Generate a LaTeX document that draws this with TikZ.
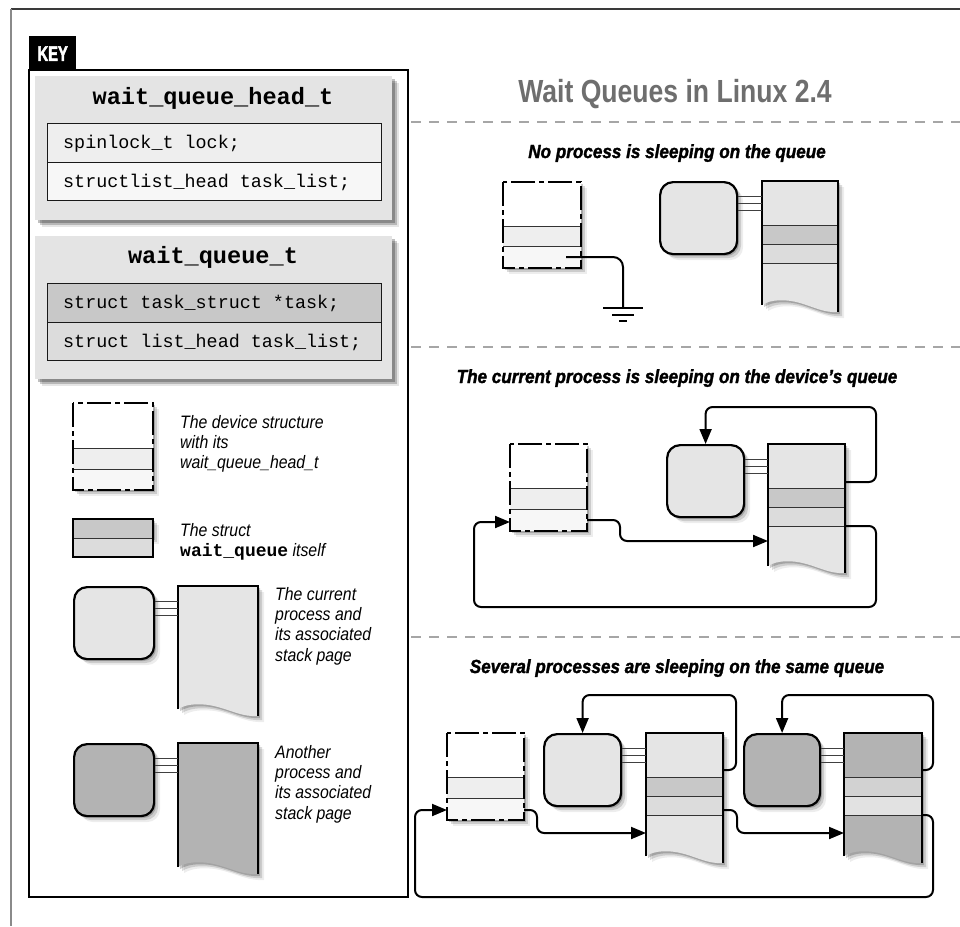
\documentclass[tikz,border=0pt]{standalone}
\usepackage{fontspec}
\setmainfont{Liberation Sans}
\setmonofont{Liberation Mono}
\newfontfamily\titlefont{Liberation Sans}[FakeStretch=0.83, UprightFont=*, BoldFont=* Bold, ItalicFont=* Italic, BoldItalicFont=* Bold Italic]
\newfontfamily\subfont{Liberation Sans}[FakeStretch=0.9, UprightFont=*, BoldFont=* Bold, ItalicFont=* Italic, BoldItalicFont=* Bold Italic, BoldItalicFeatures={FakeBold=1.6}]
\newfontfamily\legfont{Liberation Sans}[FakeStretch=0.88, UprightFont=*, BoldFont=* Bold, ItalicFont=* Italic, BoldItalicFont=* Bold Italic]
\newfontfamily\keyfont{Liberation Sans}[FakeStretch=0.7, UprightFont=*, BoldFont=* Bold, ItalicFont=* Italic, BoldItalicFont=* Bold Italic, BoldFeatures={FakeBold=2.2}]
\usetikzlibrary{arrows.meta,shadows}
\definecolor{framedark}{HTML}{3A3A3A}
\definecolor{framegray}{HTML}{8A8A8A}
\definecolor{panelgray}{HTML}{E4E4E4}
\definecolor{lightproc}{HTML}{E5E5E5}
\definecolor{darkproc}{HTML}{B3B3B3}
\definecolor{bandA}{HTML}{C8C8C8}
\definecolor{bandB}{HTML}{DCDCDC}
\definecolor{bandC}{HTML}{D2D2D2}
\definecolor{bandD}{HTML}{E2E2E2}
\definecolor{devrowA}{HTML}{EEEEEE}
\definecolor{devrowB}{HTML}{F7F7F7}
\definecolor{titlegray}{HTML}{6E6E6E}
\definecolor{sepgray}{HTML}{A6A6A6}
\tikzset{
  softshadow/.style={drop shadow={shadow xshift=2pt,shadow yshift=-2pt,opacity=0.2,fill=black},
                     drop shadow={shadow xshift=4pt,shadow yshift=-4pt,opacity=0.14,fill=black},
                     drop shadow={shadow xshift=6pt,shadow yshift=-6pt,opacity=0.07,fill=black}},
  panelshadow/.style={drop shadow={shadow xshift=3pt,shadow yshift=-3pt,opacity=0.25,fill=black},
                      drop shadow={shadow xshift=5pt,shadow yshift=-5pt,opacity=0.2,fill=black},
                      drop shadow={shadow xshift=7pt,shadow yshift=-7pt,opacity=0.1,fill=black}},
  panel/.style={fill=panelgray, draw=none, inner sep=0, anchor=north west, minimum width=357pt, panelshadow},
  rowbox/.style={draw=black!90, line width=1pt},
  monorow/.style={font=\ttfamily\fontsize{18.4}{20}\selectfont, inner sep=0, anchor=base west},
  monotitle/.style={font=\ttfamily\bfseries\fontsize{23.6}{26}\selectfont, inner sep=0, anchor=base},
  legtext/.style={font=\legfont\itshape\fontsize{18}{20.3}\selectfont, align=left, inner sep=0, anchor=north west},
  subtitle/.style={font=\subfont\bfseries\itshape\fontsize{19}{22}\selectfont, inner sep=0, anchor=base},
  divline/.style={draw=black!80, line width=0.9pt},
  devborder/.style={draw=black, line width=1.7pt, dash pattern=on 24pt off 4pt on 5pt off 4pt},
  pageborder/.style={draw=black, line width=2.4pt, line join=miter},
  proc/.style={draw=black, line width=2.2pt, rounded corners=13pt, inner sep=0, anchor=north west, minimum width=77pt, minimum height=72pt, softshadow},
  link/.style={draw=black!75, line width=0.9pt},
  flow/.style={draw=black, line width=2pt, rounded corners=7pt, -{Triangle[length=15pt,width=12pt]}},
  wire/.style={draw=black, line width=2pt, rounded corners=10pt},
  sepline/.style={draw=sepgray, line width=1.6pt, dash pattern=on 10pt off 8pt}
}
% device structure: name, x0, y0, x1, y1, divider1, divider2
\newcommand{\mkdev}[7]{%
  \fill[white, softshadow] (#2,#3) rectangle (#4,#5);
  \fill[devrowA] (#2,#6) rectangle (#4,#7);
  \fill[devrowB] (#2,#7) rectangle (#4,#5);
  \draw[divline] (#2,#6) -- (#4,#6) (#2,#7) -- (#4,#7);
  \draw[devborder] (#2,#3) rectangle (#4,#5);
  \node[inner sep=0, anchor=north west, minimum width=#4pt-#2pt, minimum height=#5pt-#3pt] (#1) at (#2,#3) {};
}
% stack page body: name, x, y, w, hL, fill
\newcommand{\mkpagebody}[6]{%
  \begin{scope}[shift={(#2,#3)}]
    \fill[#6, softshadow] (0,0) -- (#4,0) -- (#4,#5+7) .. controls (0.82*#4,#5+8) and (0.68*#4,#5+2) .. (0.5*#4,#5-2) .. controls (0.32*#4,#5-6) and (0.12*#4,#5-6) .. (0,#5) -- cycle;
    \node[inner sep=0, anchor=north west, minimum width=#4pt, minimum height=#5pt] (#1) at (0,0) {};
  \end{scope}
}
\newcommand{\mkpageborder}[4]{% x, y, w, hL
  \begin{scope}[shift={(#1,#2)}]
    \draw[pageborder] (0,#4) -- (0,0) -- (#3,0) -- (#3,#4+7);
  \end{scope}
}
\newcommand{\mkbands}[5]{% x, y, w, colorA, colorB
  \begin{scope}[shift={(#1,#2)}]
    \fill[#4] (0,44) rectangle (#3,63);
    \fill[#5] (0,63) rectangle (#3,82);
    \draw[divline] (0,44) -- (#3,44) (0,63) -- (#3,63) (0,82) -- (#3,82);
  \end{scope}
}
\newcommand{\mklinks}[2]{%
  \foreach \dd in {15,22,29} {\draw[link] ([shift={(0,\dd)}]#1.north east) -- ([shift={(0,\dd)}]#2.north west);}
}
\begin{document}
\begin{tikzpicture}[x=1pt,y=-1pt]
\useasboundingbox (0,0) rectangle (960,926);
% outer frame
\draw[framedark, line width=1.5pt] (11,9) -- (960,9);
\draw[framegray, line width=1.5pt] (11,9) -- (11,926);

% ---------------- KEY ----------------
\node[fill=black, inner sep=0, minimum width=47pt, minimum height=35pt, anchor=north west, text=white,
      font=\keyfont\bfseries\fontsize{21}{21}\selectfont] (keylabel) at (29,36) {KEY};
\draw[line width=2pt] (29,70) rectangle (408,897);

% wait_queue_head_t panel
\node[panel, minimum height=144pt] (headpanel) at (35,76) {};
\node[monotitle] (headtitle) at (213,104) {wait\_queue\_head\_t};
\draw[rowbox, fill=devrowA] (47,123) rectangle (381,162);
\draw[rowbox, fill=devrowB] (47,162) rectangle (381,200);
\node[monorow] (hlock) at (63,148) {spinlock\_t lock;};
\node[monorow] (hlist) at (63,187) {structlist\_head task\_list;};

% wait_queue_t panel
\node[panel, minimum height=143pt] (wqpanel) at (35,236) {};
\node[monotitle] (wqtitle) at (213,263) {wait\_queue\_t};
\draw[rowbox, fill=bandA] (47,283) rectangle (381,322);
\draw[rowbox, fill=bandB] (47,322) rectangle (381,360);
\node[monorow] (wqtask) at (63,308) {struct task\_struct *task;};
\node[monorow] (wqlist) at (63,347) {struct list\_head task\_list;};

% device structure legend
\mkdev{keydev}{73}{403}{153}{490}{448}{469}
\node[legtext] (keydevtext) at (180,415) {The device structure\\with its\\wait\_queue\_head\_t};

% struct wait_queue legend
\fill[bandA, softshadow] (73,519) rectangle (153,538);
\fill[bandB] (73,538) rectangle (153,557);
\draw[divline] (73,538) -- (153,538);
\draw[line width=2pt] (73,519) rectangle (153,557);
\node[legtext] (keywqtext) at (180,523) {The struct\\{\ttfamily\bfseries\upshape wait\_queue} itself};

% current process legend
\node[proc, fill=lightproc, minimum width=80pt] (keycur) at (73,586) {};
\mkpagebody{keycurpage}{178}{586}{80}{123}{lightproc}
\mkpageborder{178}{586}{80}{123}
\mklinks{keycur}{keycurpage}
\node[legtext] (keycurtext) at (275,587) {The current\\process and\\its associated\\stack page};

% another process legend
\node[proc, fill=darkproc, minimum width=80pt] (keyoth) at (73,743) {};
\mkpagebody{keyothpage}{178}{743}{80}{124}{darkproc}
\mkpageborder{178}{743}{80}{124}
\mklinks{keyoth}{keyothpage}
\node[legtext] (keyothtext) at (275,745) {Another\\process and\\its associated\\stack page};

% ---------------- RIGHT SIDE ----------------
\node[font=\titlefont\bfseries\fontsize{32}{36}\selectfont, text=titlegray, inner sep=0, anchor=base] (title) at (675,102) {Wait Queues in Linux 2.4};
\draw[sepline] (411,122) -- (960,122);
\draw[sepline] (411,347) -- (960,347);
\draw[sepline] (411,637) -- (960,637);

% Section 1
\node[subtitle] (sub1) at (677,158) {No process is sleeping on the queue};
\mkdev{dev1}{503}{182}{581}{268}{226}{246}
\node[proc, fill=lightproc] (box1) at (659,181) {};
\mkpagebody{page1}{762}{181}{76}{124}{lightproc}
\mkbands{762}{181}{76}{bandA}{bandB}
\mkpageborder{762}{181}{76}{124}
\mklinks{box1}{page1}
\coordinate (dev1out) at (566,257);
\coordinate (gnd) at (623,308);
\draw[wire] (dev1out) -| (gnd);
\draw[line width=2pt] (gnd) ++(-20,0) -- ++(40,0) ++(-31,7) -- ++(22,0) ++(-15,6) -- ++(8,0);

% Section 2
\node[subtitle] (sub2) at (677,383) {The current process is sleeping on the device’s queue};
\mkdev{dev2}{510}{444}{587}{531}{488}{509}
\node[proc, fill=lightproc] (box2) at (666,444) {};
\mkpagebody{page2}{768}{444}{77}{122}{lightproc}
\mkbands{768}{444}{77}{bandA}{bandB}
\mkpageborder{768}{444}{77}{122}
\mklinks{box2}{page2}
\coordinate (p2r1) at (845,482);
\coordinate (p2r2) at (845,526);
\coordinate (d2out) at (587,520);
\coordinate (d2in) at (510,522);
\coordinate (p2in) at (768,541);
\draw[flow] (p2r1) -| (876,407) -| (box2.north);
\draw[flow] (d2out) -| (620,541) -- (p2in);
\draw[flow] (p2r2) -| (876,607) -| (474,522) -- (d2in);

% Section 3
\node[subtitle] (sub3) at (677,673) {Several processes are sleeping on the same queue};
\mkdev{dev3}{447}{733}{524}{820}{777}{798}
\node[proc, fill=lightproc] (box3a) at (543,733) {};
\mkpagebody{page3a}{646}{733}{77}{123}{lightproc}
\mkbands{646}{733}{77}{bandA}{bandB}
\mkpageborder{646}{733}{77}{123}
\mklinks{box3a}{page3a}
\node[proc, fill=darkproc, minimum width=76pt] (box3b) at (743,733) {};
\mkpagebody{page3b}{844}{733}{78}{123}{darkproc}
\mkbands{844}{733}{78}{bandC}{bandD}
\mkpageborder{844}{733}{78}{123}
\mklinks{box3b}{page3b}
\coordinate (p3ar1) at (723,770);
\coordinate (p3br1) at (922,770);
\coordinate (d3out) at (524,810);
\coordinate (p3ain) at (646,833);
\coordinate (p3ar2) at (723,810);
\coordinate (p3bin) at (844,833);
\coordinate (p3br2) at (922,815);
\coordinate (d3in) at (447,810);
\draw[flow] (p3ar1) -| (736,695) -| (box3a.north);
\draw[flow] (p3br1) -| (933,695) -| (box3b.north);
\draw[flow] (d3out) -| (537,833) -- (p3ain);
\draw[flow] (p3ar2) -| (737,833) -- (p3bin);
\draw[flow] (p3br2) -| (933,897) -| (415,810) -- (d3in);
\end{tikzpicture}
\end{document}
